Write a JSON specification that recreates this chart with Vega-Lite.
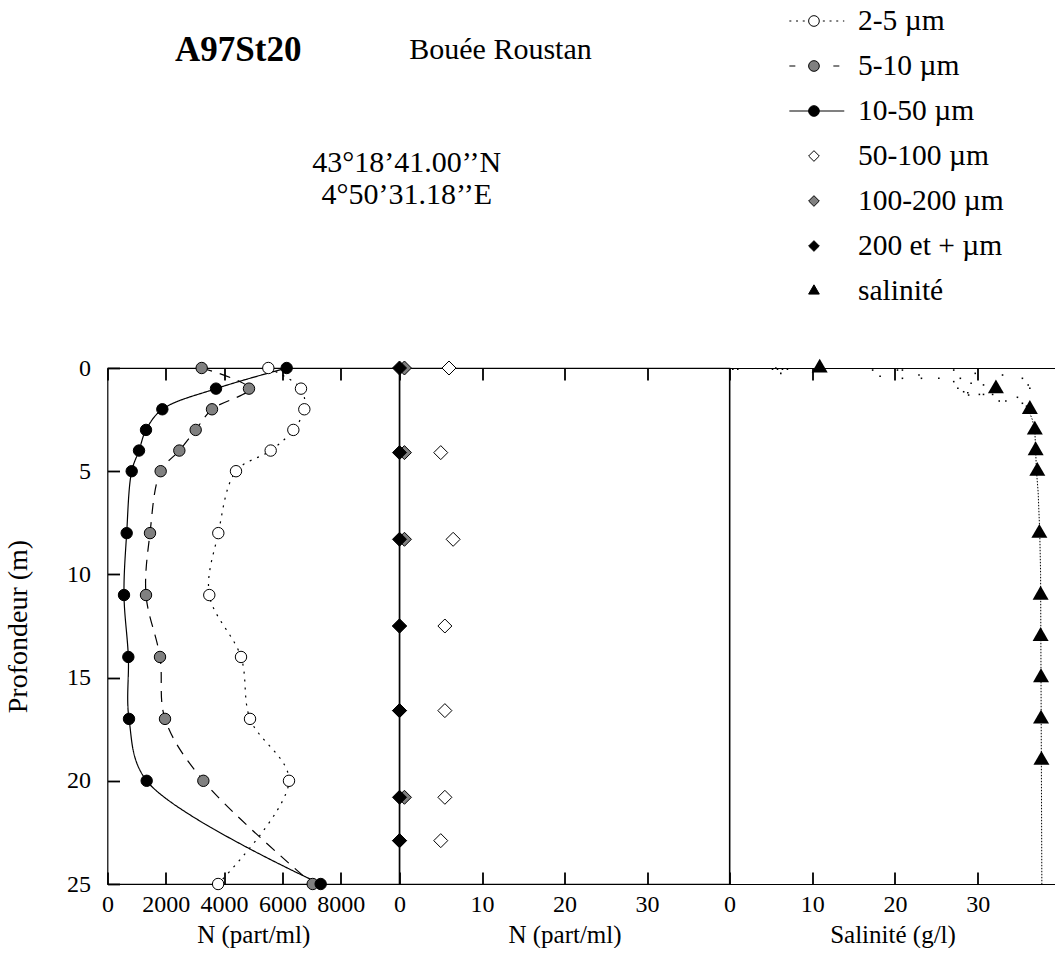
{
  "$schema": "https://vega.github.io/schema/vega-lite/v6.json",
  "padding": {"left": 3.5, "top": 0, "right": 0, "bottom": 0},
  "bounds": "flush",
  "spacing": 28,
  "config": {
    "font": "Liberation Serif",
    "view": {"stroke": "black", "strokeWidth": 1.2},
    "axis": {
      "labelFont": "Liberation Serif",
      "titleFont": "Liberation Serif",
      "labelFontSize": 24,
      "titleFontSize": 25,
      "titleFontWeight": "normal",
      "labelColor": "black",
      "titleColor": "black",
      "tickColor": "#000000",
      "domainColor": "black",
      "domainWidth": 1.2,
      "tickWidth": 1.8,
      "tickSize": 12,
      "offset": -12,
      "domain": false,
      "grid": false,
      "labelFlush": false
    },
    "axisBottom": {"labelPadding": 8, "titlePadding": 6},
    "axisLeft": {"labelPadding": 17, "titlePadding": 34, "titleFontSize": 28}
  },
  "resolve": {"scale": {"strokeDash": "independent", "fill": "independent", "shape": "independent", "size": "independent"}},
  "datasets": {
    "counts": [
      {"cls": "2-5 µm", "depth": 0, "n": 5517},
      {"cls": "2-5 µm", "depth": 1, "n": 6638},
      {"cls": "2-5 µm", "depth": 2, "n": 6752},
      {"cls": "2-5 µm", "depth": 3, "n": 6375},
      {"cls": "2-5 µm", "depth": 4, "n": 5598},
      {"cls": "2-5 µm", "depth": 5, "n": 4408},
      {"cls": "2-5 µm", "depth": 8, "n": 3801},
      {"cls": "2-5 µm", "depth": 11, "n": 3492},
      {"cls": "2-5 µm", "depth": 14, "n": 4580},
      {"cls": "2-5 µm", "depth": 17, "n": 4889},
      {"cls": "2-5 µm", "depth": 20, "n": 6226},
      {"cls": "2-5 µm", "depth": 25, "n": 3795},
      {"cls": "5-10 µm", "depth": 0, "n": 3231},
      {"cls": "5-10 µm", "depth": 1, "n": 4854},
      {"cls": "5-10 µm", "depth": 2, "n": 3585},
      {"cls": "5-10 µm", "depth": 3, "n": 3025},
      {"cls": "5-10 µm", "depth": 4, "n": 2464},
      {"cls": "5-10 µm", "depth": 5, "n": 1824},
      {"cls": "5-10 µm", "depth": 8, "n": 1458},
      {"cls": "5-10 µm", "depth": 11, "n": 1321},
      {"cls": "5-10 µm", "depth": 14, "n": 1801},
      {"cls": "5-10 µm", "depth": 17, "n": 1973},
      {"cls": "5-10 µm", "depth": 20, "n": 3288},
      {"cls": "5-10 µm", "depth": 25, "n": 7039},
      {"cls": "10-50 µm", "depth": 0, "n": 6147},
      {"cls": "10-50 µm", "depth": 1, "n": 3722},
      {"cls": "10-50 µm", "depth": 2, "n": 1881},
      {"cls": "10-50 µm", "depth": 3, "n": 1321},
      {"cls": "10-50 µm", "depth": 4, "n": 1081},
      {"cls": "10-50 µm", "depth": 5, "n": 830},
      {"cls": "10-50 µm", "depth": 8, "n": 658},
      {"cls": "10-50 µm", "depth": 11, "n": 566},
      {"cls": "10-50 µm", "depth": 14, "n": 715},
      {"cls": "10-50 µm", "depth": 17, "n": 738},
      {"cls": "10-50 µm", "depth": 20, "n": 1344},
      {"cls": "10-50 µm", "depth": 25, "n": 7313}
    ],
    "nets": [
      {"cls": "50-100 µm", "depth": 0, "n": 6.0},
      {"cls": "50-100 µm", "depth": 4.1, "n": 5.0},
      {"cls": "50-100 µm", "depth": 8.3, "n": 6.5},
      {"cls": "50-100 µm", "depth": 12.5, "n": 5.5},
      {"cls": "50-100 µm", "depth": 16.6, "n": 5.5},
      {"cls": "50-100 µm", "depth": 20.8, "n": 5.5},
      {"cls": "50-100 µm", "depth": 22.9, "n": 5.0},
      {"cls": "100-200 µm", "depth": 0, "n": 0.6},
      {"cls": "100-200 µm", "depth": 4.1, "n": 0.6},
      {"cls": "100-200 µm", "depth": 8.3, "n": 0.6},
      {"cls": "100-200 µm", "depth": 12.5, "n": 0},
      {"cls": "100-200 µm", "depth": 16.6, "n": 0},
      {"cls": "100-200 µm", "depth": 20.8, "n": 0.6},
      {"cls": "100-200 µm", "depth": 22.9, "n": 0},
      {"cls": "200 et + µm", "depth": 0, "n": 0},
      {"cls": "200 et + µm", "depth": 4.1, "n": 0},
      {"cls": "200 et + µm", "depth": 8.3, "n": 0},
      {"cls": "200 et + µm", "depth": 12.5, "n": 0},
      {"cls": "200 et + µm", "depth": 16.6, "n": 0},
      {"cls": "200 et + µm", "depth": 20.8, "n": 0},
      {"cls": "200 et + µm", "depth": 22.9, "n": 0}
    ],
    "salinity": [
      {"depth": 0, "s": 10.9},
      {"depth": 1, "s": 32.2},
      {"depth": 2, "s": 36.3},
      {"depth": 3, "s": 36.9},
      {"depth": 4, "s": 37.0},
      {"depth": 5, "s": 37.2},
      {"depth": 8, "s": 37.45},
      {"depth": 11, "s": 37.6},
      {"depth": 13, "s": 37.6},
      {"depth": 15, "s": 37.65},
      {"depth": 17, "s": 37.65},
      {"depth": 19, "s": 37.7}
    ],
    "ctd": [
      {"depth": 1.9, "s": 36.0},
      {"depth": 2.5, "s": 36.6},
      {"depth": 3, "s": 36.9},
      {"depth": 4, "s": 37.0},
      {"depth": 5, "s": 37.1},
      {"depth": 6, "s": 37.3},
      {"depth": 8, "s": 37.5},
      {"depth": 10, "s": 37.6},
      {"depth": 15, "s": 37.65},
      {"depth": 20, "s": 37.7},
      {"depth": 25, "s": 37.75}
    ],
    "ctd_surface": [
      {"depth": 0.06, "s": 0.4},
      {"depth": 0.06, "s": 1.0},
      {"depth": 0.06, "s": 5.2},
      {"depth": 0.0, "s": 5.6},
      {"depth": 0.06, "s": 5.8},
      {"depth": 0.06, "s": 6.4},
      {"depth": 0.06, "s": 7.0},
      {"depth": 0.26, "s": 6.2},
      {"depth": 0.1, "s": 17.3},
      {"depth": 0.4, "s": 18.2},
      {"depth": 0.1, "s": 20.3},
      {"depth": 0.1, "s": 20.9},
      {"depth": 0.5, "s": 20.9},
      {"depth": 0.34, "s": 22.9},
      {"depth": 0.5, "s": 23.2},
      {"depth": 0.5, "s": 25.3},
      {"depth": 0.1, "s": 27.1},
      {"depth": 0.66, "s": 27.1},
      {"depth": 0.98, "s": 27.6},
      {"depth": 0.5, "s": 27.9},
      {"depth": 1.15, "s": 28.3},
      {"depth": 1.2, "s": 28.8},
      {"depth": 1.31, "s": 28.9},
      {"depth": 0.74, "s": 29.2},
      {"depth": 0.26, "s": 29.7},
      {"depth": 1.28, "s": 30.2},
      {"depth": 1.28, "s": 30.7},
      {"depth": 0.82, "s": 30.7},
      {"depth": 1.28, "s": 31.8},
      {"depth": 1.6, "s": 32.6},
      {"depth": 1.6, "s": 33.4},
      {"depth": 0.34, "s": 33.0},
      {"depth": 1.42, "s": 34.8},
      {"depth": 0.5, "s": 35.4},
      {"depth": 0.82, "s": 36.1},
      {"depth": 0.98, "s": 36.3},
      {"depth": 1.71, "s": 35.4},
      {"depth": 1.85, "s": 35.9}
    ],
    "classes": [
      {"cls": "2-5 µm"},
      {"cls": "5-10 µm"},
      {"cls": "10-50 µm"},
      {"cls": "50-100 µm"},
      {"cls": "100-200 µm"},
      {"cls": "200 et + µm"},
      {"cls": "salinité"}
    ]
  },
  "vconcat": [
    {
      "width": 947,
      "height": 340,
      "view": {"stroke": null},
      "data": {"values": [{"station": "A97St20", "site": "Bouée Roustan", "lat": "43°18’41.00’’N", "lon": "4°50’31.18’’E"}]},
      "layer": [
        {
          "mark": {"type": "text", "font": "Liberation Serif", "fontSize": 35, "fontWeight": "bold", "baseline": "middle", "align": "center", "color": "black"},
          "encoding": {
            "x": {"datum": 13.8, "type": "quantitative", "scale": {"domain": [0, 100], "nice": false, "zero": false}, "axis": null},
            "y": {"datum": 14.7, "type": "quantitative", "scale": {"domain": [0, 100], "reverse": true, "nice": false, "zero": false}, "axis": null},
            "text": {"field": "station"}
          }
        },
        {
          "mark": {"type": "text", "font": "Liberation Serif", "fontSize": 30, "baseline": "middle", "align": "center", "color": "black"},
          "encoding": {
            "x": {"datum": 41.5, "type": "quantitative", "scale": {"domain": [0, 100], "nice": false, "zero": false}, "axis": null},
            "y": {"datum": 14.7, "type": "quantitative", "scale": {"domain": [0, 100], "reverse": true, "nice": false, "zero": false}, "axis": null},
            "text": {"field": "site"}
          }
        },
        {
          "mark": {"type": "text", "font": "Liberation Serif", "fontSize": 30, "baseline": "middle", "align": "center", "color": "black"},
          "encoding": {
            "x": {"datum": 31.6, "type": "quantitative", "scale": {"domain": [0, 100], "nice": false, "zero": false}, "axis": null},
            "y": {"datum": 47.8, "type": "quantitative", "scale": {"domain": [0, 100], "reverse": true, "nice": false, "zero": false}, "axis": null},
            "text": {"field": "lat"}
          }
        },
        {
          "mark": {"type": "text", "font": "Liberation Serif", "fontSize": 30, "baseline": "middle", "align": "center", "color": "black"},
          "encoding": {
            "x": {"datum": 31.6, "type": "quantitative", "scale": {"domain": [0, 100], "nice": false, "zero": false}, "axis": null},
            "y": {"datum": 57.4, "type": "quantitative", "scale": {"domain": [0, 100], "reverse": true, "nice": false, "zero": false}, "axis": null},
            "text": {"field": "lon"}
          }
        },
        {
          "data": {"name": "classes"},
          "encoding": {
            "y": {"field": "cls", "type": "nominal", "scale": {"type": "point", "domain": ["2-5 µm", "5-10 µm", "10-50 µm", "50-100 µm", "100-200 µm", "200 et + µm", "salinité"], "range": [21, 291], "padding": 0}, "axis": null}
          },
          "layer": [
            {
              "transform": [{"filter": {"field": "cls", "oneOf": ["2-5 µm", "5-10 µm", "10-50 µm"]}}],
              "mark": {"type": "rule", "color": "black", "strokeWidth": 1.2},
              "encoding": {
                "x": {"datum": 72.0, "type": "quantitative", "scale": {"domain": [0, 100], "nice": false, "zero": false}, "axis": null},
                "x2": {"datum": 77.8},
                "strokeDash": {"field": "cls", "type": "nominal", "scale": {"domain": ["2-5 µm", "5-10 µm", "10-50 µm"], "range": [[2, 4.7], [6, 16], [1, 0]]}, "legend": null}
              }
            },
            {
              "mark": {"type": "point", "filled": true, "stroke": "black", "strokeWidth": 1, "opacity": 1},
              "encoding": {
                "x": {"datum": 74.6, "type": "quantitative", "scale": {"domain": [0, 100], "nice": false, "zero": false}, "axis": null},
                "shape": {"field": "cls", "type": "nominal", "scale": {"domain": ["2-5 µm", "5-10 µm", "10-50 µm", "50-100 µm", "100-200 µm", "200 et + µm", "salinité"], "range": ["circle", "circle", "circle", "diamond", "diamond", "diamond", "M0,-1.155L1,0.577L-1,0.577Z"]}, "legend": null},
                "size": {"field": "cls", "type": "ordinal", "scale": {"domain": ["2-5 µm", "5-10 µm", "10-50 µm", "50-100 µm", "100-200 µm", "200 et + µm", "salinité"], "range": [114, 114, 114, 225, 225, 225, 256]}, "legend": null},
                "fill": {"field": "cls", "type": "nominal", "scale": {"domain": ["2-5 µm", "5-10 µm", "10-50 µm", "50-100 µm", "100-200 µm", "200 et + µm", "salinité"], "range": ["white", "#808080", "black", "white", "#808080", "black", "black"]}, "legend": null}
              }
            },
            {
              "mark": {"type": "text", "font": "Liberation Serif", "align": "left", "baseline": "middle", "fontSize": 29.5, "color": "black"},
              "encoding": {
                "x": {"datum": 79.25, "type": "quantitative", "scale": {"domain": [0, 100], "nice": false, "zero": false}, "axis": null},
                "text": {"field": "cls"}
              }
            }
          ]
        }
      ],
      "resolve": {"scale": {"y": "independent"}}
    },
    {
      "hconcat": [
        {
          "width": 291.5,
          "height": 516,
          "data": {"name": "counts"},
          "layer": [
            {
              "mark": {"type": "line", "interpolate": "catmull-rom", "stroke": "black", "strokeWidth": 1.2},
              "encoding": {
                "x": {"field": "n", "type": "quantitative", "scale": {"domain": [0, 10000], "nice": false}, "axis": {"orient": "bottom", "values": [0, 2000, 4000, 6000, 8000], "format": "d", "title": "N (part/ml)"}},
                "y": {"field": "depth", "type": "quantitative", "scale": {"domain": [0, 25], "reverse": true, "nice": false}, "axis": {"orient": "left", "values": [0, 5, 10, 15, 20, 25], "title": "Profondeur (m)"}},
                "strokeDash": {"field": "cls", "type": "nominal", "scale": {"domain": ["2-5 µm", "5-10 µm", "10-50 µm"], "range": [[2, 6], [11, 8], [1, 0]]}, "legend": null},
                "order": {"field": "depth", "type": "quantitative"}
              }
            },
            {
              "mark": {"type": "point", "shape": "circle", "filled": true, "stroke": "black", "strokeWidth": 1, "size": 130, "opacity": 1},
              "encoding": {
                "x": {"field": "n", "type": "quantitative", "axis": {"orient": "top", "values": [0, 2000, 4000, 6000, 8000], "labels": false, "title": null}},
                "y": {"field": "depth", "type": "quantitative"},
                "fill": {"field": "cls", "type": "nominal", "scale": {"domain": ["2-5 µm", "5-10 µm", "10-50 µm", "50-100 µm", "100-200 µm", "200 et + µm", "salinité"], "range": ["white", "#808080", "black", "white", "#808080", "black", "black"]}, "legend": null}
              }
            }
          ],
          "resolve": {"axis": {"x": "independent"}}
        },
        {
          "width": 330,
          "height": 516,
          "data": {"name": "nets"},
          "layer": [
            {
              "transform": [{"filter": {"field": "cls", "equal": "50-100 µm"}}],
              "mark": {"type": "point", "shape": "diamond", "filled": true, "stroke": "black", "strokeWidth": 1, "size": 196, "opacity": 1},
              "encoding": {
                "x": {"field": "n", "type": "quantitative", "scale": {"domain": [0, 40], "nice": false}, "axis": {"orient": "bottom", "values": [0, 10, 20, 30], "title": "N (part/ml)"}},
                "y": {"field": "depth", "type": "quantitative", "scale": {"domain": [0, 25], "reverse": true, "nice": false}, "axis": null},
                "fill": {"field": "cls", "type": "nominal", "scale": {"domain": ["2-5 µm", "5-10 µm", "10-50 µm", "50-100 µm", "100-200 µm", "200 et + µm", "salinité"], "range": ["white", "#808080", "black", "white", "#808080", "black", "black"]}, "legend": null}
              }
            },
            {
              "transform": [{"filter": {"field": "cls", "oneOf": ["100-200 µm", "200 et + µm"]}}],
              "mark": {"type": "point", "shape": "diamond", "filled": true, "stroke": "black", "strokeWidth": 1, "size": 196, "opacity": 1},
              "encoding": {
                "x": {"field": "n", "type": "quantitative", "axis": {"orient": "top", "values": [0, 10, 20, 30], "labels": false, "title": null}},
                "y": {"field": "depth", "type": "quantitative", "axis": null},
                "fill": {"field": "cls", "type": "nominal", "scale": {"domain": ["2-5 µm", "5-10 µm", "10-50 µm", "50-100 µm", "100-200 µm", "200 et + µm", "salinité"], "range": ["white", "#808080", "black", "white", "#808080", "black", "black"]}, "legend": null}
              }
            }
          ],
          "resolve": {"axis": {"x": "independent"}}
        },
        {
          "width": 326,
          "height": 516,
          "view": {"stroke": null},
          "layer": [
            {
              "data": {"name": "ctd_surface"},
              "mark": {"type": "point", "shape": "square", "filled": true, "color": "black", "size": 2.5, "opacity": 1},
              "encoding": {
                "x": {"field": "s", "type": "quantitative", "scale": {"domain": [0, 39.4], "nice": false}, "axis": {"orient": "bottom", "values": [0, 10, 20, 30], "title": "Salinité (g/l)"}},
                "y": {"field": "depth", "type": "quantitative", "scale": {"domain": [0, 25], "reverse": true, "nice": false}, "axis": null}
              }
            },
            {
              "data": {"name": "ctd"},
              "mark": {"type": "line", "stroke": "black", "strokeWidth": 1, "strokeDash": [1.5, 1.5]},
              "encoding": {
                "x": {"field": "s", "type": "quantitative", "axis": {"orient": "bottom", "offset": 0, "domain": true, "ticks": false, "labels": false, "title": null}},
                "y": {"field": "depth", "type": "quantitative", "axis": null},
                "order": {"field": "depth", "type": "quantitative"}
              }
            },
            {
              "data": {"values": [{}]},
              "mark": {"type": "rule", "color": "black", "strokeWidth": 1.2},
              "encoding": {
                "x": {"datum": 0, "type": "quantitative", "axis": {"orient": "top", "offset": 0, "domain": true, "ticks": false, "labels": false, "title": null}}
              }
            },
            {
              "data": {"name": "salinity"},
              "mark": {"type": "point", "shape": "M0,-1.155L1,0.577L-1,0.577Z", "filled": true, "color": "black", "size": 256, "opacity": 1},
              "encoding": {
                "x": {"field": "s", "type": "quantitative", "axis": {"orient": "top", "values": [0, 10, 20, 30], "labels": false, "title": null}},
                "y": {"field": "depth", "type": "quantitative", "axis": null}
              }
            }
          ],
          "resolve": {"axis": {"x": "independent"}}
        }
      ],
      "spacing": 0,
      "bounds": "flush"
    }
  ]
}
